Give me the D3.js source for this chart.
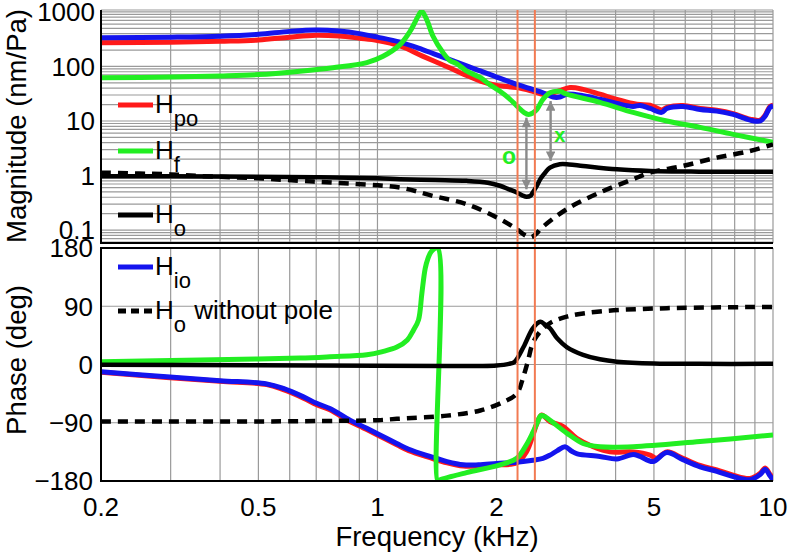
<!DOCTYPE html>
<html><head><meta charset="utf-8">
<script src="https://cdn.jsdelivr.net/npm/d3@7"></script>
<style>
body{margin:0;background:#fff}
svg text{font-family:"Liberation Sans",Arial,Helvetica,sans-serif;fill:#000}
</style></head>
<body><svg id="c" width="789" height="553"></svg>
<script>
// ---------- data (frequency in kHz) ----------
const magPo = [[0.2,271],[0.3,278],[0.4,290],[0.5,305],[0.6,345],[0.7,375],[0.8,362],[0.9,330],[1.0,300],[1.14,238],[1.3,155],[1.5,99],[1.7,66],[1.82,54],[2.0,45],[2.25,41],[2.47,35],[2.62,31],[2.75,32],[2.89,36],[3.07,41],[3.31,38],[3.65,31],[4.03,25],[4.43,21],[4.61,20],[4.89,19.5],[5.23,16],[5.39,17.8],[5.92,19.2],[6.54,17],[7.21,15.8],[7.93,13.7],[8.75,10.8],[9.28,10.4],[9.55,12.8],[9.83,18.5],[10,19.5]];
const magIo = [[0.2,335],[0.3,345],[0.4,360],[0.5,390],[0.6,440],[0.7,465],[0.8,445],[0.9,400],[1.0,345],[1.14,280],[1.3,204],[1.5,139],[1.7,99],[1.82,83],[2.0,64],[2.25,47],[2.47,38],[2.62,33],[2.78,27.5],[2.89,27.5],[3.01,31],[3.31,29],[3.65,25],[4.03,21],[4.43,18.5],[4.61,19.3],[4.89,17],[5.23,14.4],[5.39,17],[5.92,18.5],[6.54,16.3],[7.21,15.2],[7.93,13.2],[8.75,10.4],[9.28,10],[9.55,12.3],[9.83,17.8],[10,18.8]];
const magF = [[0.2,62],[0.3,64],[0.4,67],[0.5,71],[0.637,82],[0.772,95],[0.94,118],[1.033,154],[1.14,252],[1.209,442],[1.267,832],[1.294,1030],[1.332,723],[1.382,358],[1.464,180],[1.526,128],[1.59,112],[1.682,82],[1.817,63],[1.926,46],[2.04,35],[2.15,26],[2.25,19],[2.35,14.3],[2.41,13.2],[2.47,14],[2.53,16.3],[2.62,24.9],[2.73,33],[2.89,35],[3.01,31],[3.65,22],[4.43,14.4],[5.39,10],[6.54,7.65],[7.93,5.7],[10,4.07]];
const magO = [[0.2,0.97],[0.4,0.96],[0.7,0.93],[1.0,0.89],[1.14,0.86],[1.4,0.83],[1.68,0.8],[1.9,0.74],[2.04,0.65],[2.15,0.56],[2.25,0.49],[2.33,0.43],[2.38,0.41],[2.44,0.43],[2.47,0.49],[2.53,0.65],[2.58,0.86],[2.66,1.15],[2.73,1.4],[2.89,1.61],[3.05,1.6],[3.31,1.5],[4.03,1.3],[4.89,1.21],[6.5,1.18],[10,1.18]];
const magONoPole = [[0.2,1.13],[0.3,1.05],[0.356,0.98],[0.5,0.89],[0.637,0.8],[0.772,0.74],[1.14,0.6],[1.38,0.424],[1.68,0.299],[2.04,0.159],[2.25,0.104],[2.35,0.082],[2.44,0.0734],[2.53,0.088],[2.58,0.104],[3.01,0.242],[3.65,0.489],[4.43,0.856],[4.89,1.135],[5.92,1.5],[7.21,2.13],[8.75,2.82],[10,3.74]];

const phIo = [[0.2,-11],[0.293,-19],[0.4,-25],[0.525,-30],[0.578,-37],[0.65,-50],[0.702,-60],[0.758,-68],[0.852,-86],[0.921,-96],[1.0,-107],[1.119,-122],[1.2,-131],[1.358,-142],[1.5,-150],[1.648,-155],[1.8,-155],[2.0,-153],[2.25,-151],[2.47,-148],[2.62,-145],[2.73,-140],[2.85,-133],[2.98,-127],[3.1,-134],[3.2,-138],[3.65,-142],[4.03,-146],[4.43,-139],[4.61,-142],[4.97,-150],[5.39,-136],[5.92,-147],[6.54,-158],[7.21,-165],[7.93,-173],[8.75,-178],[9.28,-170],[9.55,-162],[9.83,-172],[10,-179]];
const phPo = [[0.2,-12],[0.293,-20],[0.4,-26],[0.525,-31],[0.578,-39],[0.65,-52],[0.702,-62],[0.758,-70],[0.852,-88],[0.921,-98],[1.0,-109],[1.119,-124],[1.2,-133],[1.358,-144],[1.5,-152],[1.648,-157],[1.8,-157],[2.0,-155],[2.25,-152],[2.38,-135],[2.47,-110],[2.53,-91],[2.6,-78],[2.73,-88],[2.95,-96],[3.19,-114],[3.51,-127],[3.87,-135],[4.43,-135],[4.89,-140],[5.07,-145],[5.39,-135],[5.92,-145],[6.54,-156],[7.21,-163],[7.93,-171],[8.75,-176],[9.28,-168],[9.55,-160],[9.83,-170],[10,-177]];
const phF = [[0.2,4.3],[0.356,7],[0.5,8.5],[0.637,10],[0.758,12],[0.94,15],[1.03,20],[1.12,27],[1.19,38],[1.233,53],[1.27,69],[1.295,110],[1.32,148],[1.34,163],[1.37,175],[1.42,180],[1.42,-180],[1.44,-178],[1.68,-167],[2.04,-155],[2.25,-145],[2.38,-124],[2.47,-105],[2.53,-91],[2.59,-79],[2.66,-81],[2.73,-86],[3.01,-106],[3.31,-122],[3.65,-127],[4.43,-127],[6.54,-119],[10,-109]];
const phO = [[0.2,-0.5],[0.5,-1],[1,-2],[1.5,-2.5],[2.0,-1.5],[2.15,1],[2.22,4],[2.34,27],[2.47,56],[2.58,66],[2.65,62],[2.73,56],[2.85,40],[3.01,27],[3.31,15],[3.65,8],[4.03,4.3],[5,1.5],[6.5,1],[10,1]];
const phONoPole = [[0.2,-88],[0.5,-88],[0.8,-87],[1.0,-86],[1.12,-84],[1.5,-79],[1.82,-71],[2.08,-58],[2.25,-45],[2.34,-18],[2.4,5],[2.47,33],[2.58,51],[2.73,64],[3.01,74],[3.65,82],[5.39,87],[10,89]];

const markerFreqs = [2.26, 2.5];                 // vertical lines
const arrowsMag = [[2.38, 11.5, 0.56], [2.74, 23.2, 1.85]]; // [f, top, bottom]
const labelsMag = [["o", 2.15, 2.28], ["x", 2.89, 5.7]];

const magTicks = [0.1, 1, 10, 100, 1000];
const magTickLabels = ["0.1", "1", "10", "100", "1000"];
const phTicks = [-180, -90, 0, 90, 180];
const phTickLabels = ["\u2212180", "\u221290", "0", "90", "180"];
const fTicks = [0.2, 0.5, 1, 2, 5, 10];
const fTickLabels = ["0.2", "0.5", "1", "2", "5", "10"];

// ---------- layout ----------
const L = 101, R = 773, mT = 10, mB = 243, pT = 248, pB = 481;
const RED = "#ff1a1a", GREEN = "#22ee22", BLUE = "#1414ee", GRID = "#9a9a9a", ORANGE = "#f27a52";

const svg = d3.select("#c");
const x = d3.scaleLog().domain([0.2, 10]).range([L, R]);
const yM = d3.scaleLog().domain([0.058, 1085]).range([mB, mT]);
const yP = d3.scaleLinear().domain([-180, 180]).range([pB, pT]);

const defs = svg.append("defs");
defs.append("clipPath").attr("id", "cm").append("rect").attr("x", L).attr("y", mT).attr("width", R - L).attr("height", mB - mT);
defs.append("clipPath").attr("id", "cp").append("rect").attr("x", L).attr("y", pT).attr("width", R - L).attr("height", pB - pT);
defs.append("marker").attr("id", "ah").attr("viewBox", "0 0 10 10").attr("refX", 10).attr("refY", 5)
  .attr("markerWidth", 4.4).attr("markerHeight", 4).attr("markerUnits", "strokeWidth").attr("orient", "auto-start-reverse")
  .append("path").attr("d", "M0,0L10,5L0,10z").attr("fill", "#8a8a8a");

// grids
const gGrid = svg.append("g").attr("stroke", GRID).attr("stroke-width", 1.2);
x.ticks().forEach(t => {
  gGrid.append("line").attr("x1", x(t)).attr("x2", x(t)).attr("y1", mT).attr("y2", mB);
  gGrid.append("line").attr("x1", x(t)).attr("x2", x(t)).attr("y1", pT).attr("y2", pB);
});
yM.ticks().forEach(t => gGrid.append("line").attr("x1", L).attr("x2", R).attr("y1", yM(t)).attr("y2", yM(t)));
gGrid.append("line").attr("x1", L).attr("x2", R).attr("y1", mT).attr("y2", mT);
phTicks.forEach(t => gGrid.append("line").attr("x1", L).attr("x2", R).attr("y1", yP(t)).attr("y2", yP(t)));

// curves
const lineM = d3.line().x(d => x(d[0])).y(d => yM(d[1])).curve(d3.curveCatmullRom.alpha(0.5));
const lineP = d3.line().x(d => x(d[0])).y(d => yP(d[1])).curve(d3.curveCatmullRom.alpha(0.5));
const gm = svg.append("g").attr("clip-path", "url(#cm)").attr("fill", "none").attr("stroke-linejoin", "round");
const gp = svg.append("g").attr("clip-path", "url(#cp)").attr("fill", "none").attr("stroke-linejoin", "round");
const series = [
  [magPo, phPo, RED, 5, null],
  [magIo, phIo, BLUE, 5, null],
  [magF, phF, GREEN, 5, null],
  [magO, phO, "#000", 4.5, null],
  [magONoPole, phONoPole, "#000", 4.5, "10,7"]
];
series.forEach(([m, p, c, w, dash]) => {
  gm.append("path").attr("d", lineM(m)).attr("stroke", c).attr("stroke-width", w).attr("stroke-dasharray", dash);
  gp.append("path").attr("d", lineP(p)).attr("stroke", c).attr("stroke-width", w).attr("stroke-dasharray", dash);
});

// vertical marker lines
markerFreqs.forEach(f => svg.append("line").attr("x1", x(f)).attr("x2", x(f)).attr("y1", mT).attr("y2", pB)
  .attr("stroke", ORANGE).attr("stroke-width", 2));

// arrows & labels
arrowsMag.forEach(([f, a, b]) => svg.append("line").attr("x1", x(f)).attr("x2", x(f)).attr("y1", yM(a)).attr("y2", yM(b))
  .attr("stroke", "#8a8a8a").attr("stroke-width", 2.4).attr("marker-start", "url(#ah)").attr("marker-end", "url(#ah)"));
labelsMag.forEach(([t, f, v]) => svg.append("text").attr("x", x(f)).attr("y", yM(v)).attr("dy", "0.36em")
  .attr("text-anchor", "middle").style("font-size", t === "o" ? "23px" : "20px").style("font-weight", "bold")
  .style("fill", GREEN).text(t));

// axes lines
const gAx = svg.append("g").attr("stroke", "#000").attr("stroke-width", 2);
gAx.append("line").attr("x1", L).attr("x2", L).attr("y1", mT).attr("y2", mB);
gAx.append("line").attr("x1", L - 1).attr("x2", R).attr("y1", mB).attr("y2", mB);
gAx.append("line").attr("x1", L).attr("x2", L).attr("y1", pT).attr("y2", pB);
gAx.append("line").attr("x1", L - 1).attr("x2", R).attr("y1", pT).attr("y2", pT);
gAx.append("line").attr("x1", L - 1).attr("x2", R).attr("y1", pB).attr("y2", pB);

// tick labels
magTicks.forEach((t, i) => svg.append("text").attr("x", 95).attr("y", yM(t)).attr("dy", "0.35em")
  .attr("text-anchor", "end").style("font-size", "26px").text(magTickLabels[i]));
phTicks.forEach((t, i) => svg.append("text").attr("x", 93).attr("y", yP(t)).attr("dy", "0.36em")
  .attr("text-anchor", "end").style("font-size", "26px").text(phTickLabels[i]));
fTicks.forEach((t, i) => svg.append("text").attr("x", x(t)).attr("y", 516)
  .attr("text-anchor", "middle").style("font-size", "26px").text(fTickLabels[i]));

// axis titles
svg.append("text").attr("x", 437).attr("y", 546).attr("text-anchor", "middle").style("font-size", "27.5px").text("Frequency (kHz)");
svg.append("text").attr("transform", "translate(26,126) rotate(-90)").attr("text-anchor", "middle").style("font-size", "27.5px").text("Magnitude (nm/Pa)");
svg.append("text").attr("transform", "translate(26,360) rotate(-90)").attr("text-anchor", "middle").style("font-size", "27.5px").text("Phase (deg)");

// legends
const legend = [
  [RED, null, "H", "po", "", 105],
  [GREEN, null, "H", "f", "", 151],
  ["#000", null, "H", "o", "", 215],
  [BLUE, null, "H", "io", "", 267],
  ["#000", "8,5", "H", "o", " without pole", 311]
];
legend.forEach(([c, dash, h, sub, rest, ly]) => {
  svg.append("line").attr("x1", 118).attr("x2", 153).attr("y1", ly).attr("y2", ly)
    .attr("stroke", c).attr("stroke-width", 5).attr("stroke-dasharray", dash);
  const t = svg.append("text").attr("x", 155).attr("y", ly + 8).style("font-size", "26px");
  t.append("tspan").text(h);
  t.append("tspan").attr("dy", 13).style("font-size", "22px").text(sub);
  if (rest) t.append("tspan").attr("dy", -13).attr("dx", 1).style("font-size", "26px").text(rest);
});
</script></body></html>
